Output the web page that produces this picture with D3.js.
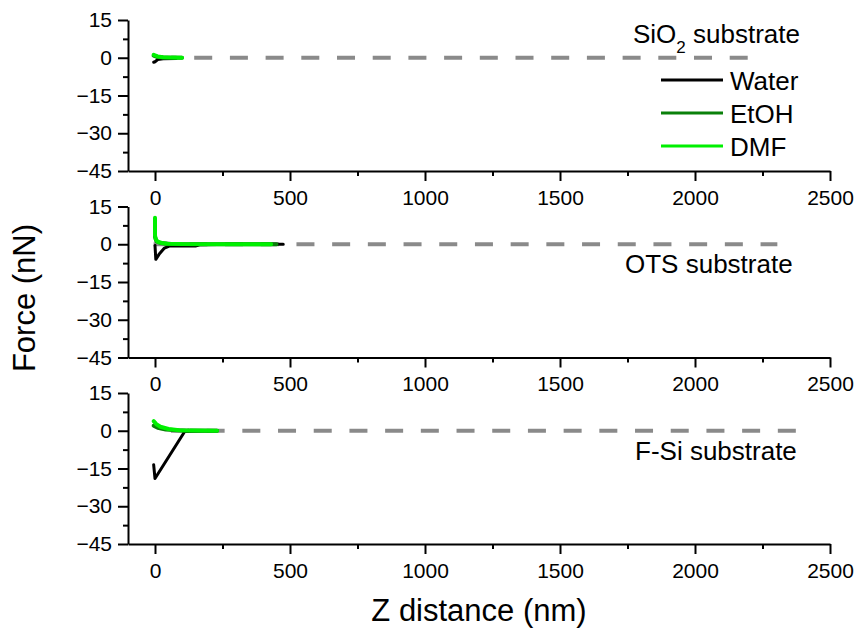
<!DOCTYPE html>
<html>
<head>
<meta charset="utf-8">
<script src="https://cdn.jsdelivr.net/npm/d3@7"></script>
<style>
  body { margin: 0; background: #fff; }
  svg text { font-family: "Liberation Sans", Arial, sans-serif; }
</style>
</head>
<body>
<div id="chart"></div>
<script>
var solvents = ["Water", "EtOH", "DMF"];
var colors = ["#000000", "#0a800a", "#00f000"];

var xTicks = [0, 500, 1000, 1500, 2000, 2500];
var xMinor = [250, 750, 1250, 1750, 2250];
var yTicks = [15, 0, -15, -30, -45];
var yMinor = [7.5, -7.5, -22.5, -37.5];

// force curves, [z (nm), force (nN)]
var sio2Water = [[-5, -1.8], [0, -1.6], [10, -0.7], [30, -0.4], [78, -0.3]];
var sio2Etoh  = [[-5, 0.8], [5, 0.4], [30, 0.1], [100, 0]];
var sio2Dmf   = [[-5, 1.2], [0, 0.9], [10, 0.5], [30, 0.2], [60, 0.05], [100, 0]];

var otsWater = [[0, -0.5], [3, -6], [15, -4], [35, -1.5], [55, -0.6], [90, -0.7], [150, -0.7], [165, -0.2], [300, 0], [475, 0]];
var otsEtoh  = [[0, 9], [0, 3], [5, 1.2], [20, 0.5], [60, 0.1], [150, 0], [450, 0]];
var otsDmf   = [[0, 10.5], [0, 3.5], [3, 2], [10, 1], [25, 0.5], [45, 0.2], [100, 0.05], [430, 0]];

var fsiWater = [[-5, -13.5], [0, -19], [110, -0.3], [230, 0]];
var fsiEtoh  = [[-5, 2], [10, 1.2], [40, 0.5], [80, 0.2], [120, 0.05], [230, 0]];
var fsiDmf   = [[-5, 3.8], [5, 2.6], [20, 1.6], [50, 0.7], [90, 0.2], [130, 0.05], [230, 0]];

var panelNames = ["SiO2", "OTS", "F-Si"];
var panelSeries = [
    [sio2Water, sio2Etoh, sio2Dmf],
    [otsWater, otsEtoh, otsDmf],
    [fsiWater, fsiEtoh, fsiDmf]
];
// dashed zero reference line: start / end in nm
var refStart = [13, -5, 59];
var refEnd = [2200, 2305, 2375];

var width = 857, height = 633;
var left = 128, right = 830;
var panelTop = [20, 206.5, 393];
var panelH = 151;

var svg = d3.select("#chart").append("svg")
    .attr("width", width)
    .attr("height", height);

var x = d3.scaleLinear().domain([-100, 2500]).range([left, right]);

panelNames.forEach(function(name, p) {
    var y = d3.scaleLinear().domain([-45, 15]).range([panelTop[p] + panelH, panelTop[p]]);
    var line = d3.line()
        .x(function(d) { return x(d[0]); })
        .y(function(d) { return y(d[1]); });
    var g = svg.append("g");

    // reference line at zero
    g.append("line")
        .attr("x1", x(refStart[p]))
        .attr("x2", x(refEnd[p]))
        .attr("y1", y(0))
        .attr("y2", y(0))
        .attr("stroke", "#8a8a8a")
        .attr("stroke-width", 4)
        .attr("stroke-dasharray", "18,17.7");

    panelSeries[p].forEach(function(s, i) {
        g.append("path")
            .attr("d", line(s))
            .attr("fill", "none")
            .attr("stroke", colors[i])
            .attr("stroke-width", i == 0 ? 3 : 4)
            .attr("stroke-linejoin", "round")
            .attr("stroke-linecap", "round");
    });

    // x axis
    g.append("g")
        .attr("transform", "translate(0," + y(-45) + ")")
        .call(d3.axisBottom(x).tickValues(xTicks).tickFormat(d3.format("d"))
            .tickSize(10).tickSizeOuter(0).tickPadding(9));
    g.append("g")
        .attr("transform", "translate(0," + y(-45) + ")")
        .call(d3.axisBottom(x).tickValues(xMinor).tickSize(5).tickFormat(""))
        .select(".domain").remove();

    // y axis
    g.append("g")
        .attr("transform", "translate(" + left + ",0)")
        .call(d3.axisLeft(y).tickValues(yTicks).tickFormat(d3.format("d"))
            .tickSize(10).tickSizeOuter(0).tickPadding(6));
    g.append("g")
        .attr("transform", "translate(" + left + ",0)")
        .call(d3.axisLeft(y).tickValues(yMinor).tickSize(5).tickFormat(""))
        .select(".domain").remove();

    g.selectAll(".domain").attr("stroke-width", 2);
    g.selectAll(".tick line").attr("stroke-width", 2);
    g.selectAll(".tick text")
        .style("font-size", "21px")
        .style("font-family", "'Liberation Sans', Arial, sans-serif")
        .attr("fill", "#000");
});

// substrate labels
var sio2Label = svg.append("text")
    .attr("x", 633).attr("y", 43)
    .style("font-size", "26px");
sio2Label.append("tspan").text("SiO");
sio2Label.append("tspan").text("2").attr("dy", 10).style("font-size", "17px");
sio2Label.append("tspan").text(" substrate").attr("dy", -10);

svg.append("text").attr("x", 625).attr("y", 273)
    .style("font-size", "26px").text("OTS substrate");
svg.append("text").attr("x", 635).attr("y", 460)
    .style("font-size", "26px").text("F-Si substrate");

// legend
var legendY = [80, 113, 146];
solvents.forEach(function(s, i) {
    svg.append("line")
        .attr("x1", 661).attr("x2", 723)
        .attr("y1", legendY[i]).attr("y2", legendY[i])
        .attr("stroke", colors[i])
        .attr("stroke-width", 3);
    svg.append("text")
        .attr("x", 730).attr("y", legendY[i] + 10)
        .style("font-size", "26px")
        .text(s);
});

// axis titles
svg.append("text")
    .attr("transform", "translate(35,298) rotate(-90)")
    .attr("text-anchor", "middle")
    .style("font-size", "31px")
    .text("Force (nN)");

svg.append("text")
    .attr("x", (left + right) / 2)
    .attr("y", 621)
    .attr("text-anchor", "middle")
    .style("font-size", "31px")
    .text("Z distance (nm)");
</script>
</body>
</html>
